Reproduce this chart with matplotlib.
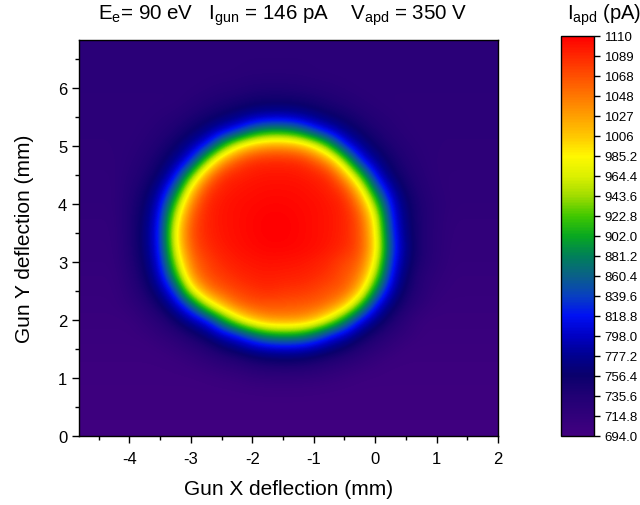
import numpy as np
import matplotlib
matplotlib.use('Agg')
import matplotlib.pyplot as plt
from matplotlib.colors import LinearSegmentedColormap
from matplotlib.ticker import MultipleLocator

plt.rcParams['font.family'] = ['Liberation Sans', 'DejaVu Sans']
plt.rcParams['mathtext.default'] = 'regular'
plt.rcParams['axes.unicode_minus'] = False

# grid centres (mm)
x_mm = [-4.75, -4.5, -4.25, -4.0, -3.75, -3.5, -3.25, -3.0, -2.75, -2.5,
        -2.25, -2.0, -1.75, -1.5, -1.25, -1.0, -0.75, -0.5, -0.25, 0.0,
        0.25, 0.5, 0.75, 1.0, 1.25, 1.5, 1.75, 2.0]
y_mm = [0.0, 0.25, 0.5, 0.75, 1.0, 1.25, 1.5, 1.75, 2.0, 2.25, 2.5, 2.75,
        3.0, 3.25, 3.5, 3.75, 4.0, 4.25, 4.5, 4.75, 5.0, 5.25, 5.5, 5.75,
        6.0, 6.25, 6.5, 6.75]

# APD current (pA), one row per y
iapd = [
    [698] * 28,
    [699] * 28,
    [699] * 28,
    [700] * 10 + [701, 702, 703, 703, 703, 702, 701] + [700] * 11,
    [701] * 8 + [703, 706, 708, 713, 714, 715, 714, 713, 710, 706, 702] + [701] * 9,
    [702] * 6 + [704, 708, 714, 720, 726, 736, 742, 744, 743, 737, 728, 720, 714, 707] + [702] * 8,
    [703] * 5 + [706, 712, 720, 732, 750, 765, 782, 791, 795, 793, 783, 768, 752, 732,
                 720, 711] + [703] * 7,
    [705] * 4 + [708, 717, 726, 745, 766, 797, 821, 863, 895, 903, 899, 870, 823, 797,
                 765, 740, 723, 713] + [705] * 6,
    [706] * 4 + [717, 728, 755, 786, 815, 889, 963, 1010, 1033, 1036, 1034, 1014, 965, 889,
                 813, 774, 742, 720] + [706] * 6,
    [708] * 3 + [715, 727, 753, 791, 850, 947, 1012, 1053, 1065, 1067, 1065, 1063, 1061,
                 1049, 1010, 915, 813, 765, 735, 718] + [708] * 5,
    [709] * 3 + [721, 742, 775, 835, 966, 1040, 1064, 1075, 1083, 1088, 1083, 1082, 1076,
                 1066, 1060, 1008, 878, 791, 748, 725, 712] + [709] * 4,
    [710] * 3 + [726, 752, 798, 900, 1030, 1069, 1079, 1089, 1094, 1096, 1094, 1093, 1089,
                 1081, 1066, 1044, 942, 811, 758, 726, 717] + [710] * 4,
    [712] * 3 + [732, 759, 812, 947, 1050, 1075, 1089, 1096, 1099, 1101, 1100, 1099, 1095,
                 1088, 1073, 1060, 979, 827, 767, 735, 721] + [712] * 4,
    [713] * 3 + [735, 764, 822, 976, 1064, 1086, 1096, 1101, 1105, 1108, 1108, 1106, 1103,
                 1097, 1089, 1070, 997, 840, 771, 737, 722] + [713] * 4,
    [714] * 3 + [736, 765, 825, 985, 1070, 1091, 1099, 1103, 1107, 1110, 1110, 1107, 1103,
                 1099, 1091, 1070, 989, 831, 767, 737, 722] + [714] * 4,
    [715] * 3 + [736, 762, 819, 966, 1065, 1092, 1099, 1103, 1107, 1110, 1110, 1107, 1103,
                 1099, 1092, 1068, 977, 822, 764, 737, 723] + [715] * 4,
    [717] * 3 + [735, 757, 805, 925, 1044, 1090, 1099, 1103, 1105, 1107, 1107, 1105, 1103,
                 1098, 1091, 1046, 935, 809, 760, 736, 724] + [717] * 4,
    [717] * 3 + [732, 749, 785, 865, 1001, 1078, 1094, 1099, 1102, 1104, 1104, 1103, 1099,
                 1094, 1076, 1001, 868, 788, 750, 732, 721] + [717] * 4,
    [718] * 3 + [728, 740, 762, 812, 921, 1031, 1085, 1093, 1097, 1099, 1099, 1098, 1094,
                 1084, 1026, 921, 811, 762, 741, 728, 719] + [718] * 4,
    [719] * 3 + [724, 734, 750, 777, 823, 934, 1026, 1068, 1087, 1090, 1090, 1088, 1070,
                 1030, 937, 822, 777, 750, 734, 724] + [719] * 5,
    [720] * 3 + [722, 728, 739, 756, 784, 823, 909, 982, 1020, 1036, 1037, 1026, 989,
                 918, 825, 782, 755, 739, 728, 722] + [720] * 5,
    [720] * 4 + [724, 731, 741, 755, 774, 804, 833, 879, 904, 905, 886, 841, 807, 775,
                 755, 740, 730, 723] + [720] * 6,
    [721] * 5 + [725, 731, 740, 749, 759, 771, 787, 795, 796, 789, 774, 760, 751, 740,
                 731, 725] + [721] * 7,
    [721] * 7 + [728, 735, 741, 746, 751, 754, 754, 752, 747, 741, 735, 728, 723] + [721] * 8,
    [722] * 8 + [725, 729, 731, 736, 737, 737, 735, 732, 729, 725] + [722] * 10,
    [722] * 10 + [723, 725, 725, 725, 725, 723] + [722] * 12,
    [723] * 28,
    [723] * 28,
]

cbar_levels = [694.0, 714.8, 735.6, 756.4, 777.2, 798.0, 818.8, 839.6, 860.4, 881.2,
               902.0, 922.8, 943.6, 964.4, 985.2, 1006.0, 1026.8, 1047.6, 1068.4,
               1089.2, 1110.0]
cbar_labels = ['694.0', '714.8', '735.6', '756.4', '777.2', '798.0', '818.8', '839.6',
               '860.4', '881.2', '902.0', '922.8', '943.6', '964.4', '985.2', '1006',
               '1027', '1048', '1068', '1089', '1110']

# origin-like rainbow palette
pal_pos = [0.0, 0.05, 0.1, 0.15, 0.2, 0.25, 0.3, 0.35, 0.4, 0.45, 0.5, 0.55, 0.6,
           0.65, 0.7, 0.75, 0.8, 0.85, 0.9, 0.95, 1.0]
pal_col = ['#420080', '#30007a', '#200074', '#0a006c', '#000090', '#0000c4', '#0010f4',
           '#0840c0', '#0a6088', '#008058', '#08a820', '#40c800', '#a0dc00', '#dcf000',
           '#fff800', '#ffc800', '#ffa000', '#ff7800', '#ff5000', '#ff2800', '#ff0000']
cmap = LinearSegmentedColormap.from_list('origin_rainbow', list(zip(pal_pos, pal_col)))

z = np.array(iapd, dtype=float)
x = np.array(x_mm)
y = np.array(y_mm)
hx = (x[1] - x[0]) / 2
hy = (y[1] - y[0]) / 2

fig = plt.figure(figsize=(6.4, 5.06), dpi=100)
ax = fig.add_axes([0.1234, 0.1364, 0.6547, 0.7826])
im = ax.imshow(z, origin='lower', cmap=cmap, vmin=694, vmax=1110,
               extent=[x[0] - hx, x[-1] + hx, y[0] - hy, y[-1] + hy],
               interpolation='bicubic', aspect='auto')
ax.set_xlim(-4.82, 2.0)
ax.set_ylim(0, 6.83)

ax.set_xticks([-4, -3, -2, -1, 0, 1, 2])
ax.set_yticks([0, 1, 2, 3, 4, 5, 6])
ax.xaxis.set_minor_locator(MultipleLocator(0.5))
ax.yaxis.set_minor_locator(MultipleLocator(0.5))
ax.tick_params(which='major', direction='out', length=5, width=1, labelsize=12)
ax.tick_params(axis='x', which='major', pad=6)
ax.tick_params(which='minor', direction='out', length=3, width=1)
for s in ax.spines.values():
    s.set_linewidth(1)

ax.set_xlabel('Gun X deflection (mm)', fontsize=15, labelpad=9)
ax.set_ylabel('Gun Y deflection (mm)', fontsize=15, labelpad=17)

fig.text(0.441, 0.961, 'E$_{e}$= 90 eV   I$_{gun}$ = 146 pA    V$_{apd}$ = 350 V',
         ha='center', va='baseline', fontsize=14.8)

cax = fig.add_axes([0.8766, 0.1364, 0.0516, 0.7905])
cb = fig.colorbar(im, cax=cax, ticks=cbar_levels)
cb.ax.set_yticklabels(cbar_labels)
cb.ax.tick_params(direction='out', length=4, width=1, labelsize=9.5)
cb.outline.set_linewidth(1)
fig.text(0.886, 0.962, 'I$_{apd}$ (pA)', ha='left', va='baseline', fontsize=14.5)

fig.savefig('out.png', dpi=100)
